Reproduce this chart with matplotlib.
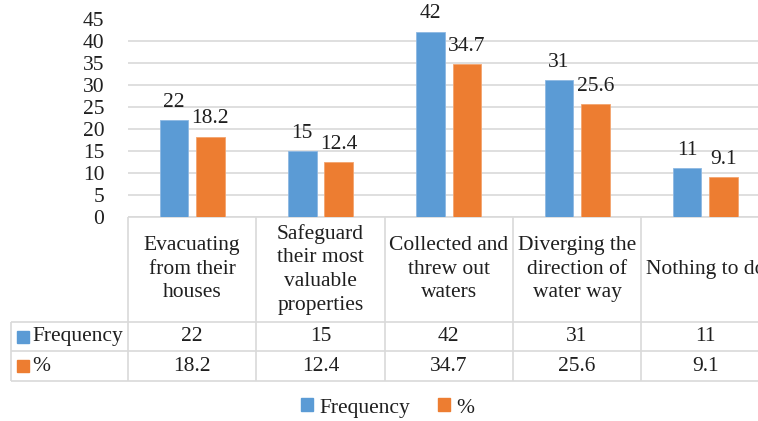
import matplotlib
matplotlib.use("Agg")
import matplotlib.pyplot as plt
from matplotlib.patches import Patch
from matplotlib.transforms import blended_transform_factory

plt.rcParams['font.family'] = ['Liberation Serif', 'DejaVu Serif']

categories = ["Evacuating\nfrom their\nhouses",
              "Safeguard\ntheir most\nvaluable\nproperties",
              "Collected and\nthrew out\nwaters",
              "Diverging the\ndirection of\nwater way",
              "Nothing to do"]
frequency = [22, 15, 42, 31, 11]
percent = [18.2, 12.4, 34.7, 25.6, 9.1]
freq_labels = ["22", "15", "42", "31", "11"]
pct_labels = ["18.2", "12.4", "34.7", "25.6", "9.1"]

blue = "#5B9BD5"
orange = "#ED7D31"
grid_c = "#D9D9D9"
txt_c = "#1F1F1F"
fs = 15.5

W, H = 758, 421
fig = plt.figure(figsize=(W / 100, H / 100), dpi=100)

# plot area in pixels (it runs past the right edge, like the original)
x0, x1 = 128, 769.5
ytop, ybot = 18.5, 217
ax = fig.add_axes([x0 / W, 1 - ybot / H, (x1 - x0) / W, (ybot - ytop) / H])

n = len(categories)
xs = list(range(n))
off, bw = 0.142, 0.223
b1 = ax.bar([x - off for x in xs], frequency, bw, color=blue, edgecolor="#8DB8E3", linewidth=0.6, zorder=3)
b2 = ax.bar([x + off for x in xs], percent, bw, color=orange, edgecolor="#F3A46F", linewidth=0.6, zorder=3)
for r, t in zip(b1, freq_labels):
    ax.annotate(t, (r.get_x() + r.get_width() / 2, r.get_height()), xytext=(0, 6),
                textcoords="offset points", ha="center", va="bottom", fontsize=fs, color=txt_c)
for r, t in zip(b2, pct_labels):
    ax.annotate(t, (r.get_x() + r.get_width() / 2, r.get_height()), xytext=(0, 6),
                textcoords="offset points", ha="center", va="bottom", fontsize=fs, color=txt_c)

ax.set_xlim(-0.5, n - 0.5)
ax.set_ylim(0, 45)
ax.set_yticks(range(0, 46, 5))
ax.tick_params(axis="y", length=0, pad=17, labelsize=fs, labelcolor=txt_c)
ax.set_xticks([])
ax.yaxis.grid(True, color=grid_c, linewidth=1.2, zorder=0)
ax.set_axisbelow(True)
for s in ax.spines.values():
    s.set_visible(False)

# data table below the axis
tr = blended_transform_factory(ax.transData, ax.transAxes)
def ya(py):
    return (ybot - py) / (ybot - ytop)
def xd(px):
    return -0.5 + (px - x0) / ((x1 - x0) / n)

r_head, r_freq, r_pct = 321.7, 351.3, 381
lw = 1.2
kw = dict(color=grid_c, lw=lw, transform=tr, clip_on=False, solid_capstyle="butt")
ax.plot([-0.5, n - 0.5], [0, 0], **kw)
for py in (r_head, r_freq, r_pct):
    ax.plot([xd(11), n - 0.5], [ya(py), ya(py)], **kw)
for i in range(n + 1):
    ax.plot([i - 0.5, i - 0.5], [0, ya(r_pct)], **kw)
ax.plot([xd(11), xd(11)], [ya(r_head), ya(r_pct)], **kw)

for i, c in enumerate(categories):
    ax.text(i, ya((ybot + r_head) / 2), c, transform=tr, ha="center", va="center",
            fontsize=fs, color=txt_c, linespacing=1.33, clip_on=False)
    ax.text(i, ya((r_head + r_freq) / 2), freq_labels[i], transform=tr, ha="center", va="center",
            fontsize=fs, color=txt_c, clip_on=False)
    ax.text(i, ya((r_freq + r_pct) / 2), pct_labels[i], transform=tr, ha="center", va="center",
            fontsize=fs, color=txt_c, clip_on=False)

for py, name, col in [((r_head + r_freq) / 2, "Frequency", blue), ((r_freq + r_pct) / 2, "%", orange)]:
    ax.plot([xd(23)], [ya(py)], marker="s", markersize=8.5, color=col, transform=tr, clip_on=False, lw=0)
    ax.text(xd(32), ya(py), name, transform=tr, ha="left", va="center", fontsize=fs,
            color=txt_c, clip_on=False)

handles = [Patch(color=blue), Patch(color=orange)]
fig.legend(handles, ["Frequency", "%"], loc="center", bbox_to_anchor=(388 / W, 1 - 408 / H),
           ncol=2, frameon=False, fontsize=fs, handlelength=0.55, handleheight=0.55,
           handletextpad=0.3, columnspacing=1.3, labelcolor=txt_c)

fig.savefig("out.png", dpi=100)
